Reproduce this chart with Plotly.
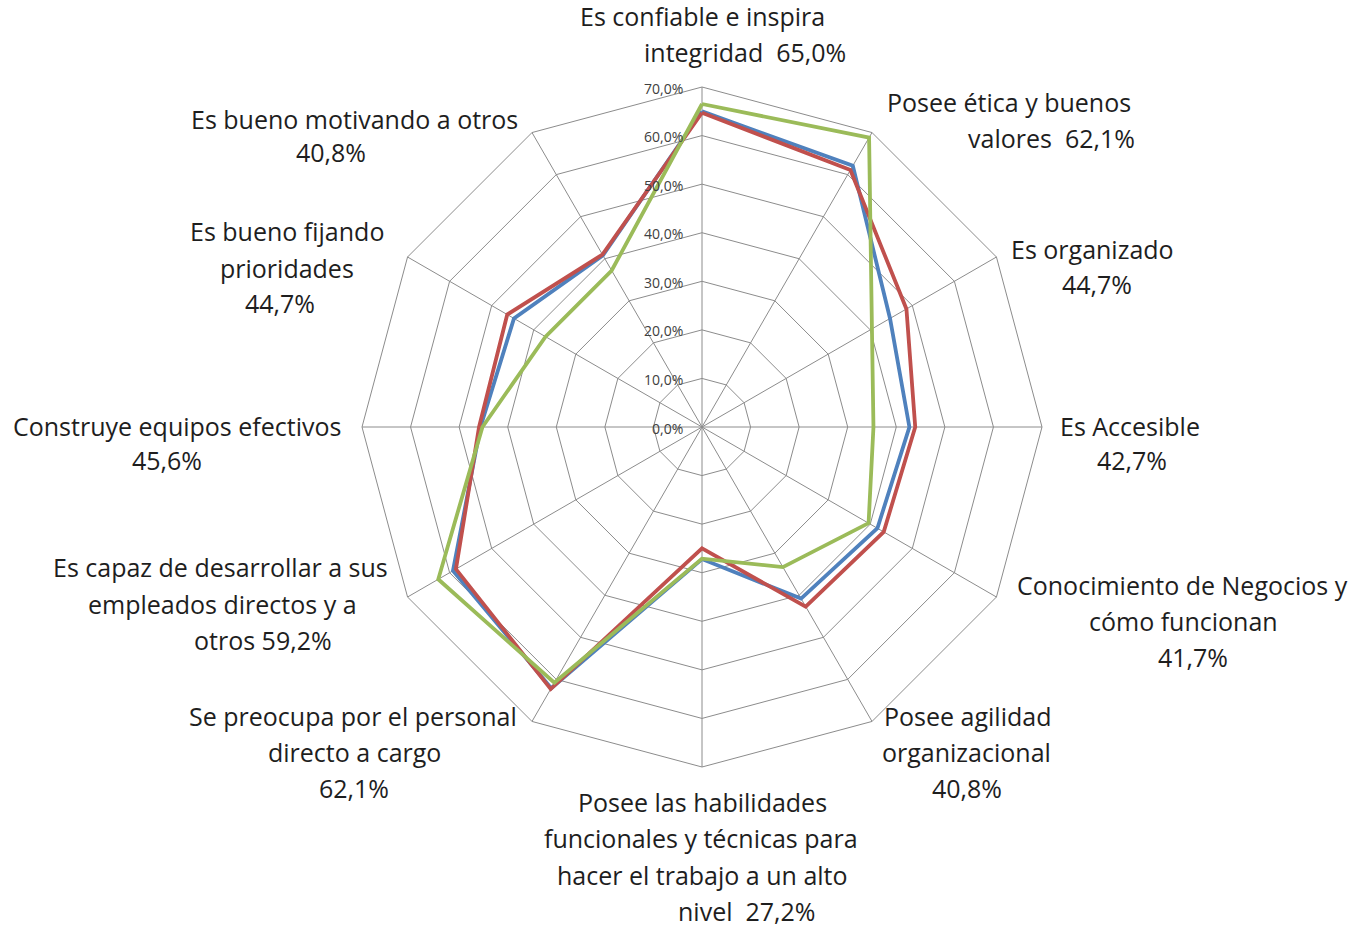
import plotly.graph_objects as go

W, H = 1359, 928

category_lines = [
    ["Es confiable e inspira", "integridad"],
    ["Posee ética y buenos", "valores"],
    ["Es organizado"],
    ["Es Accesible"],
    ["Conocimiento de Negocios y", "cómo funcionan"],
    ["Posee agilidad", "organizacional"],
    ["Posee las habilidades", "funcionales y técnicas para", "hacer el trabajo a un alto", "nivel"],
    ["Se preocupa por el personal", "directo a cargo"],
    ["Es capaz de desarrollar a sus", "empleados directos y a", "otros"],
    ["Construye equipos efectivos"],
    ["Es bueno fijando", "prioridades"],
    ["Es bueno motivando a otros"],
]
# separator between last text line and the value ("\n" = value on its own line)
value_sep = ["  ", "  ", "\n", "\n", "\n", "\n", "  ", "\n", " ", "\n", "\n", "\n"]

series_blue = [65.0, 62.1, 44.7, 42.7, 41.7, 40.8, 27.2, 62.1, 59.2, 45.6, 44.7, 40.8]
series_red = [64.7, 61.1, 48.6, 43.9, 43.2, 42.7, 25.0, 62.3, 58.5, 45.9, 46.3, 41.0]
series_green = [66.5, 68.8, 40.4, 35.3, 39.6, 33.3, 27.1, 60.8, 62.7, 45.2, 37.2, 37.2]

radial_ticks = [0, 10, 20, 30, 40, 50, 60, 70]
radial_max = 70

# label line centres in pixels (layout only)
label_pos = [
    [(702, 16), (745, 52)],
    [(1009, 102), (1051, 138)],
    [(1092, 249), (1097, 284)],
    [(1130, 426), (1132, 460)],
    [(1182, 585), (1183, 621), (1193, 657)],
    [(967, 716), (966, 752), (967, 788)],
    [(702, 802), (701, 838), (702, 875), (747, 911)],
    [(353, 716), (354, 752), (354, 788)],
    [(220, 567), (222, 604), (263, 640)],
    [(177, 426), (167, 460)],
    [(287, 231), (287, 268), (280, 303)],
    [(354, 119), (331, 152)],
]

categories = [" ".join(l) for l in category_lines]


def closed(v):
    return list(v) + [v[0]]


def fmt_pct(v):
    return f"{v:.1f}".replace(".", ",") + "%"


fig = go.Figure()
for vals, color, name in [
    (series_blue, "#4F81BD", "Serie 1"),
    (series_red, "#C0504D", "Serie 2"),
    (series_green, "#9BBB59", "Serie 3"),
]:
    fig.add_trace(go.Scatterpolar(
        r=closed(vals), theta=closed(categories), mode="lines", name=name,
        line=dict(color=color, width=3.8), hoverinfo="skip",
    ))

grid = "#8C8C8C"
cx0, cy0, R = 702, 427, 340
fig.update_layout(
    width=W, height=H,
    margin=dict(l=0, r=0, t=0, b=0),
    paper_bgcolor="white", plot_bgcolor="white",
    showlegend=False,
    separators=",.",
    polar=dict(
        domain=dict(x=[(cx0 - R) / W, (cx0 + R) / W], y=[1 - (cy0 + R) / H, 1 - (cy0 - R) / H]),
        bgcolor="white",
        gridshape="linear",
        radialaxis=dict(
            range=[0, radial_max], tickvals=radial_ticks, showticklabels=False,
            angle=90, showline=False, gridcolor=grid, gridwidth=1, ticks="",
        ),
        angularaxis=dict(
            type="category", categoryarray=categories,
            showticklabels=False, ticks="",
            rotation=90, direction="clockwise",
            showline=True, linecolor=grid, linewidth=1,
            gridcolor=grid, gridwidth=1,
        ),
    ),
)

# radial tick labels, placed on the radial scale next to the vertical axis
for v in radial_ticks:
    py = cy0 - R * v / radial_max
    fig.add_annotation(
        x=(cx0 - 17) / W, y=1 - (py + 1) / H, xref="paper", yref="paper",
        text=fmt_pct(v), showarrow=False, xanchor="right", yanchor="middle",
        font=dict(family="Open Sans, sans-serif", size=14, color="#404040"),
    )

font = dict(family="Open Sans, sans-serif", size=25, color="#1E1E1E")
for lines, sep, val, pos in zip(category_lines, value_sep, series_blue, label_pos):
    vtxt = fmt_pct(val)
    if sep == "\n":
        all_lines = list(lines) + [vtxt]
    else:
        all_lines = list(lines[:-1]) + [lines[-1] + sep + vtxt]
    for txt, (px, py) in zip(all_lines, pos):
        fig.add_annotation(
            x=px / W, y=1 - py / H, xref="paper", yref="paper",
            text=txt.replace("  ", "&nbsp; "), showarrow=False,
            xanchor="center", yanchor="middle", font=font,
        )

fig.write_html("out.html")
